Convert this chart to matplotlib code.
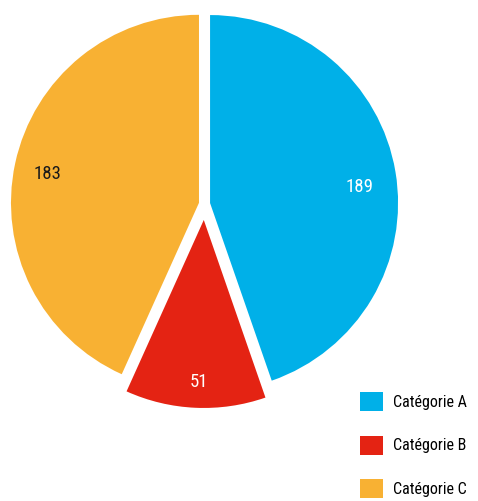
import matplotlib
matplotlib.use('Agg')
import matplotlib.pyplot as plt
from matplotlib.patches import Patch
from matplotlib import font_manager
import numpy as np

categories = ['Catégorie A', 'Catégorie B', 'Catégorie C']
values = [189, 51, 183]
colors = ['#00B0E8', '#E42313', '#F8B133']
label_colors = ['white', 'white', '#1a1a1a']

names = {f.name for f in font_manager.fontManager.ttflist}
fam = [n for n in ['Roboto Condensed', 'Liberation Sans Narrow', 'DejaVu Sans Condensed', 'Roboto'] if n in names]
plt.rcParams['font.family'] = fam + ['DejaVu Sans']

W, H = 478, 501
fig = plt.figure(figsize=(W / 100, H / 100), dpi=100)
r = 188
cx, cy = 204.5, 204
half = 1.1 * r
ax = fig.add_axes([(cx - half) / W, (H - cy - half) / H, 2 * half / W, 2 * half / H])

wedges, texts, autotexts = ax.pie(
    values, colors=colors, startangle=90, counterclock=False,
    explode=[0.03, 0.085, 0.03], radius=1,
    autopct=lambda p: '%d' % round(p * sum(values) / 100),
    pctdistance=0.82, textprops={'fontsize': 13.5})
# nudge labels along the arc a bit, like the original
for w, t, c, d, dist in zip(wedges, autotexts, label_colors, [-3.5, 0.8, 1.2], [0.80, 0.86, 0.82]):
    a = np.deg2rad((w.theta1 + w.theta2) / 2 + d)
    x0, y0 = w.center
    t.set_position((x0 + dist * np.cos(a), y0 + dist * np.sin(a)))
    t.set_color(c)
ax.set_xlim(-1.1, 1.1)
ax.set_ylim(-1.1, 1.1)
ax.set_aspect('equal')
ax.axis('off')

handles = [Patch(facecolor=c, edgecolor='none') for c in colors]
fig.legend(handles, categories, loc='upper left',
           bbox_to_anchor=(360 / W, 1 - 392 / H), frameon=False,
           fontsize=11.5, handlelength=1.45, handleheight=1.45,
           handletextpad=0.6, labelspacing=1.55, borderpad=0, borderaxespad=0)

fig.savefig('out.png', dpi=100)
